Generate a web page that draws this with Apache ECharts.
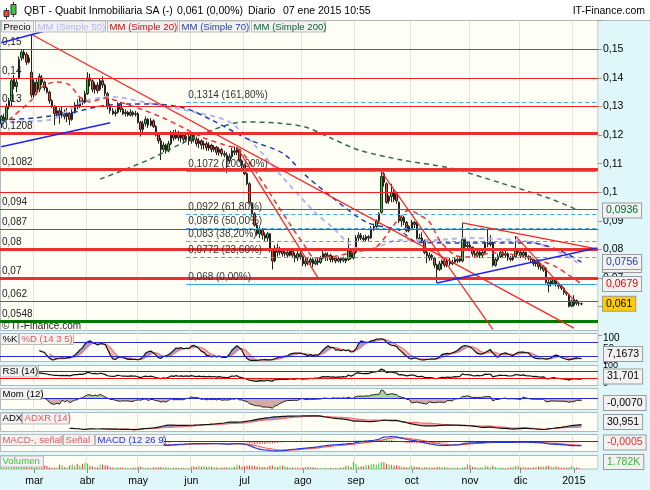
<!DOCTYPE html>
<html><head><meta charset="utf-8">
<script src="https://cdn.jsdelivr.net/npm/echarts@6/dist/echarts.min.js"></script>
<style>html,body{margin:0;padding:0;background:#dff7fb}#c{width:650px;height:490px}</style>
</head><body><div id="c"></div>
<script>
// ---------------- DATA ----------------
const startDate = '2014-02-12';
const holidays = ['2014-04-18','2014-04-21','2014-05-01','2014-12-25','2014-12-26','2015-01-01'];
const padDays = 6;
const monthNames = ['ene','feb','mar','abr','may','jun','jul','ago','sep','oct','nov','dic'];

// candles: [open, close, low, high]
const candlesFeb = [
[.1240,.1265,.1225,.1270],[.1262,.1250,.1240,.1275],[.1255,.1300,.1250,.1310],[.1300,.1320,.1290,.1330],
[.1320,.1390,.1300,.1400],[.1395,.1370,.1360,.1410],[.1370,.1385,.1350,.1395],[.1400,.1465,.1395,.1475],
[.1470,.1490,.1460,.1500],[.1490,.1480,.1465,.1500],[.1482,.1455,.1445,.1490],[.1455,.1470,.1450,.1480],
[.1420,.1340,.1330,.1552]];
const candlesMar = [
[.1340,.1385,.1330,.1395],[.1385,.1350,.1340,.1395],[.1360,.1405,.1350,.1415],[.1400,.1385,.1375,.1410],
[.1385,.1365,.1355,.1390],[.1365,.1350,.1345,.1370],[.1350,.1320,.1310,.1355],[.1320,.1300,.1295,.1325],
[.1300,.1275,.1235,.1305],[.1275,.1285,.1265,.1300],[.1285,.1270,.1240,.1295],[.1270,.1280,.1260,.1300],
[.1280,.1265,.1255,.1290],[.1265,.1275,.1245,.1295],[.1275,.1255,.1235,.1280],[.1255,.1280,.1250,.1290],
[.1280,.1305,.1275,.1315],[.1305,.1300,.1290,.1325],[.1300,.1320,.1295,.1330],[.1320,.1315,.1305,.1330],
[.1315,.1345,.1310,.1355]];
const candlesApr = [
[.1345,.1400,.1340,.1420],[.1400,.1390,.1370,.1415],[.1390,.1360,.1350,.1395],[.1360,.1375,.1345,.1385],
[.1375,.1355,.1345,.1385],[.1360,.1390,.1355,.1400],[.1390,.1375,.1365,.1405],[.1375,.1345,.1335,.1380],
[.1345,.1300,.1290,.1350],[.1300,.1285,.1275,.1310],[.1285,.1275,.1270,.1295],[.1275,.1280,.1265,.1290],
[.1280,.1310,.1275,.1315],[.1310,.1290,.1280,.1315],[.1290,.1275,.1270,.1295],[.1275,.1280,.1265,.1290],
[.1280,.1270,.1265,.1285],[.1270,.1280,.1265,.1290],[.1280,.1272,.1265,.1285],[.1272,.1275,.1265,.1285]];
const candlesMay = [
[.1275,.1245,.1240,.1280],[.1245,.1220,.1195,.1250],[.1220,.1240,.1210,.1250],[.1240,.1255,.1230,.1265],
[.1255,.1235,.1225,.1260],[.1235,.1250,.1230,.1260],[.1250,.1230,.1225,.1255],[.1230,.1200,.1195,.1235],
[.1200,.1180,.1170,.1205],[.1180,.1150,.1113,.1190],[.1150,.1165,.1140,.1175],[.1165,.1145,.1135,.1170],
[.1145,.1170,.1140,.1180],[.1170,.1205,.1165,.1215],[.1205,.1190,.1180,.1218],[.1190,.1210,.1185,.1220],
[.1210,.1190,.1180,.1215],[.1190,.1200,.1175,.1210],[.1200,.1185,.1170,.1205],[.1185,.1195,.1175,.1205],
[.1195,.1180,.1165,.1205]];
const candlesJun = [
[.1180,.1200,.1170,.1210],[.1200,.1185,.1175,.1207],[.1185,.1170,.1160,.1195],[.1170,.1180,.1155,.1190],
[.1180,.1165,.1150,.1185],[.1165,.1170,.1150,.1180],[.1170,.1155,.1145,.1178],[.1155,.1165,.1145,.1175],
[.1165,.1150,.1140,.1170],[.1150,.1158,.1142,.1165],[.1158,.1140,.1130,.1162],[.1140,.1150,.1128,.1158],
[.1150,.1135,.1125,.1155],[.1135,.1130,.1122,.1145],[.1130,.1110,.1067,.1140],[.1110,.1125,.1100,.1135],
[.1125,.1145,.1118,.1155],[.1145,.1140,.1130,.1160],[.1140,.1150,.1130,.1158],[.1150,.1110,.1105,.1152],
[.1110,.1095,.1080,.1115]];
const candlesJul = [
[.1095,.1065,.1060,.1100],[.1065,.1030,.1025,.1070],[.1030,.0965,.0960,.1035],[.0960,.0925,.0918,.0965],
[.0925,.0885,.0880,.0930],[.0885,.0855,.0848,.0890],[.0855,.0870,.0840,.0880],[.0870,.0850,.0835,.0875],
[.0850,.0840,.0830,.0860],[.0840,.0855,.0828,.0862],[.0855,.0800,.0790,.0858],[.0800,.0760,.0730,.0805],
[.0760,.0805,.0755,.0815],[.0805,.0790,.0775,.0820],[.0790,.0795,.0780,.0810],[.0795,.0785,.0775,.0805],
[.0785,.0790,.0775,.0800],[.0790,.0780,.0770,.0800],[.0780,.0795,.0775,.0805],[.0795,.0780,.0770,.0805],
[.0780,.0770,.0755,.0790],[.0770,.0785,.0760,.0795],[.0785,.0775,.0765,.0795]];
const candlesAug = [
[.0775,.0750,.0742,.0780],[.0750,.0760,.0740,.0770],[.0760,.0755,.0745,.0770],[.0755,.0765,.0745,.0772],
[.0765,.0750,.0738,.0770],[.0750,.0760,.0745,.0768],[.0760,.0755,.0745,.0770],[.0755,.0770,.0750,.0778],
[.0770,.0785,.0765,.0795],[.0785,.0775,.0760,.0790],[.0775,.0780,.0760,.0790],[.0780,.0765,.0755,.0785],
[.0765,.0770,.0755,.0778],[.0770,.0760,.0752,.0775],[.0760,.0768,.0755,.0775],[.0768,.0762,.0752,.0772],
[.0762,.0768,.0755,.0775],[.0768,.0760,.0752,.0772],[.0765,.0795,.0760,.0840],[.0795,.0770,.0765,.0800],
[.0770,.0790,.0765,.0795]];
const candlesSep = [
[.0790,.0840,.0785,.0850],[.0840,.0850,.0830,.0860],[.0850,.0840,.0832,.0858],[.0840,.0835,.0826,.0850],
[.0835,.0845,.0828,.0852],[.0845,.0840,.0830,.0850],[.0840,.0875,.0838,.0882],[.0875,.0880,.0865,.0890],
[.0880,.0900,.0875,.0905],[.0900,.0925,.0890,.0930],[.0930,.1055,.0925,.1072],[.1065,.1035,.1020,.1070],
[.1030,.0965,.0960,.1035],[.0970,.0985,.0960,.0990],[.0985,.1000,.0965,.1030],[.1000,.0975,.0965,.1010],
[.0995,.0970,.0960,.1002],[.0965,.0900,.0893,.0968],[.0900,.0912,.0880,.0920],[.0912,.0895,.0885,.0918],
[.0895,.0865,.0860,.0900],[.0865,.0880,.0860,.0885]];
const candlesOct = [
[.0875,.0895,.0868,.0903],[.0895,.0888,.0875,.0900],[.0890,.0840,.0833,.0896],[.0840,.0830,.0822,.0855],
[.0830,.0840,.0825,.0860],[.0830,.0790,.0783,.0835],[.0790,.0778,.0752,.0805],[.0770,.0780,.0760,.0790],
[.0780,.0770,.0762,.0785],[.0770,.0745,.0735,.0775],[.0745,.0730,.0683,.0750],[.0730,.0750,.0725,.0760],
[.0750,.0760,.0730,.0765],[.0760,.0745,.0738,.0768],[.0745,.0760,.0738,.0768],[.0760,.0750,.0742,.0770],
[.0750,.0755,.0745,.0765],[.0755,.0765,.0750,.0772],[.0765,.0760,.0752,.0772],[.0760,.0768,.0755,.0775],
[.0760,.0835,.0755,.0893],[.0835,.0810,.0805,.0840],[.0810,.0815,.0800,.0830]];
const candlesNov = [
[.0815,.0808,.0800,.0826],[.0808,.0785,.0775,.0810],[.0785,.0778,.0770,.0795],[.0778,.0790,.0772,.0798],
[.0790,.0780,.0770,.0795],[.0780,.0790,.0772,.0795],[.0790,.0822,.0785,.0830],[.0822,.0818,.0808,.0868],
[.0818,.0825,.0810,.0850],[.0825,.0745,.0740,.0828],[.0745,.0765,.0740,.0772],[.0765,.0775,.0758,.0785],
[.0775,.0790,.0770,.0798],[.0790,.0780,.0772,.0797],[.0780,.0785,.0772,.0795],[.0785,.0770,.0760,.0790],
[.0770,.0765,.0758,.0778],[.0765,.0775,.0760,.0780],[.0775,.0800,.0770,.0847],[.0800,.0790,.0782,.0805]];
const candlesDec = [
[.0790,.0780,.0770,.0800],[.0780,.0790,.0772,.0795],[.0790,.0775,.0765,.0793],[.0775,.0770,.0762,.0780],
[.0770,.0765,.0755,.0778],[.0765,.0750,.0742,.0768],[.0750,.0755,.0740,.0762],[.0755,.0740,.0730,.0758],
[.0740,.0735,.0727,.0748],[.0728,.0740,.0722,.0745],[.0735,.0685,.0680,.0738],[.0685,.0675,.0650,.0695],
[.0680,.0690,.0670,.0695],[.0680,.0695,.0675,.0700],[.0690,.0680,.0670,.0695],[.0680,.0672,.0662,.0685],
[.0672,.0665,.0658,.0678],[.0665,.0650,.0642,.0668],[.0650,.0645,.0638,.0655],[.0642,.0602,.0598,.0645],
[.0602,.0620,.0598,.0625]];
const candlesJan = [
[.0605,.0625,.0600,.0640],[.0622,.0612,.0605,.0625],[.0612,.0610,.0602,.0618],[.0610,.0610,.0605,.0615]];

// volume (thousands of shares)
const volFeb = [40,35,60,80,120,70,90,150,110,60,80,70,180];
const volMar = [50,40,45,40,90,85,40,35,35,40,120,110,50,40,100,130,90,150,110,140,180];
const volApr = [160,90,70,60,50,120,130,110,100,60,40,35,50,45,40,30,35,30,40,45];
const volMay = [60,70,45,40,35,30,40,45,50,60,45,40,35,30,35,40,30,35,30,25,30];
const volJun = [70,80,60,90,70,85,60,75,65,50,40,35,45,40,50,45,40,60,120,110,70];
const volJul = [80,90,100,90,85,70,80,60,50,60,90,100,70,60,90,95,85,50,40,45,35,40,30];
const volAug = [40,60,55,60,50,45,30,25,30,25,30,35,30,25,30,40,50,90,100,60,200];
const volSep = [140,60,80,70,120,110,130,150,120,160,200,190,150,130,120,100,110,90,70,60,50,60];
const volOct = [90,70,60,50,45,40,50,45,40,35,60,70,60,50,40,35,30,40,35,30,45,60,130];
const volNov = [110,60,50,45,40,40,90,70,50,95,60,40,35,30,30,35,40,60,90,80];
const volDec = [50,65,40,35,30,40,60,70,65,55,80,90,70,60,75,50,40,35,45,40,90];
const volJan = [60,40,30,1.782];

// moving averages: [tradingDayIndex, value]
const sma20 = [[3,.1253],[12,.1323],[16,.1368],[22,.1386],[27,.1375],[31,.1333],[35,.1316],[38,.1323],[41,.1330],[48,.1312],[56,.1288],[64,.1260],[72,.1225],[80,.1190],[88,.1166],[94,.1148],[100,.1078],[111,.0928],[119,.0823],[124,.0770],[132,.0777],[139,.0791],[148,.0809],[155,.0886],[161,.0938],[165,.0921],[169,.0896],[173,.0833],[179,.0780],[184,.0774],[194,.0788],[203,.0781],[212,.0763],[219,.0739],[229,.0679]];
const sma50 = [[0,.1246],[19,.1253],[32,.1316],[44,.1333],[58,.1312],[78,.1277],[90,.1246],[100,.1165],[111,.1053],[124,.0928],[131,.0875],[139,.0809],[145,.0802],[157,.0833],[170,.0833],[184,.0840],[209,.0826],[220,.0791],[229,.0746]];
const sma70 = [[0,.1253],[13,.1260],[27,.1277],[42,.1305],[58,.1309],[72,.1295],[83,.1253],[98,.1183],[111,.1137],[120,.1060],[127,.1008],[144,.0896],[157,.0868],[164,.0826],[177,.0823],[190,.0823],[209,.0823],[220,.0798],[229,.0756]];
const sma200 = [[39,.1046],[58,.1113],[70,.1166],[82,.1214],[96,.1246],[109,.1242],[120,.1228],[130,.1190],[141,.1148],[158,.1113],[177,.1085],[197,.1033],[216,.0980],[228,.0936]];
const maLastLabels = {sma20:'0,0679', sma50:'0,0746', sma70:'0,0756', sma200:'0,0936'};
const lastPrice = 0.061, lastPriceLabel = '0,061';

// horizontal levels
const thinRedLevels = [[0.15,'0,15'],[0.14,'0,14'],[0.13,'0,13'],[0.1,''],[0.094,'0,094'],[0.087,'0,087'],[0.062,'0,062']];
const thickRedLevels = [[0.1208,'0,1208'],[0.1082,'0,1082'],[0.08,'0,08'],[0.07,'0,07']];
const greenLevels = [[0.0548,'0,0548']];
const fibDashed = [[0.1314,'0,1314 (161,80%)'],[0.0922,'0,0922 (61,80%)'],[0.0876,'0,0876 (50,00%)'],[0.083,'0,083 (38,20%)'],[0.0772,'0,0772 (23,60%)']];
const fibSolid = [[0.1072,'0,1072 (100,00%)'],[0.068,'0,068 (0,00%)']];
const fibStartIndex = 73;

// trend lines: [index1, value1, index2, value2]
const redTrends = [[12,.1552,226,.0525],[93,.1158,125,.0701],[150,.1072,194,.0521],[182,.0893,235,.0802],[203,.0847,226,.0623]];
const blueTrends = [[0,.1523,32,.1599],[0,.1159,43,.1243],[172,.0683,235,.0805]];

const titleParts = ['QBT - Quabit Inmobiliaria SA (-)','0,061 (0,00%)','Diario','07 ene 2015 10:55'];
const legendItems = ['Precio','MM (Simple 50)','MM (Simple 20)','MM (Simple 70)','MM (Simple 200)'];
const indicatorValueLabels = ['7,1673','31,701','-0,0070','30,951','-0,0005','1.782K'];

// ---------------- BUILD ----------------
const candles = [].concat(candlesFeb,candlesMar,candlesApr,candlesMay,candlesJun,candlesJul,candlesAug,candlesSep,candlesOct,candlesNov,candlesDec,candlesJan);
const volumes = [].concat(volFeb,volMar,volApr,volMay,volJun,volJul,volAug,volSep,volOct,volNov,volDec,volJan);
const N0 = candles.length;
const nCat = N0 + padDays;
function buildDates(start, count){
  const out=[]; const d=new Date(start+'T00:00:00Z');
  while(out.length<count){ const wd=d.getUTCDay(); const s=d.toISOString().slice(0,10);
    if(wd!==0&&wd!==6&&holidays.indexOf(s)<0) out.push(s);
    d.setUTCDate(d.getUTCDate()+1);}
  return out;
}
const dates = buildDates(startDate, nCat);
const isMonthStart = dates.map((s,i)=> i>0 && i<N0 && s.slice(5,7)!==dates[i-1].slice(5,7));
const monthFmt = v => { const m=+v.slice(5,7); return m===1 ? v.slice(0,4) : monthNames[m-1]; };

const Op=candles.map(d=>d[0]), Cl=candles.map(d=>d[1]), Lo=candles.map(d=>d[2]), Hi=candles.map(d=>d[3]);
function smaArr(a,n){ return a.map((_,i)=>{ if(i<n-1) return null; let s=0; for(let j=i-n+1;j<=i;j++){ if(a[j]==null) return null; s+=a[j]; } return s/n; }); }
const rawK = Cl.map((c,i)=>{ if(i<13) return null; let hh=-1, ll=1; for(let j=i-13;j<=i;j++){hh=Math.max(hh,Hi[j]); ll=Math.min(ll,Lo[j]);} return hh>ll?100*(c-ll)/(hh-ll):50; });
const stK = smaArr(rawK,3), stD = smaArr(stK,5);
const rsi = new Array(N0).fill(null);
{ let ag=0, al=0; for(let i=1;i<N0;i++){ const ch=Cl[i]-Cl[i-1], g=Math.max(ch,0), l=Math.max(-ch,0);
  if(i<=14){ ag+=g/14; al+=l/14; if(i===14) rsi[i]= al===0?100:100-100/(1+ag/al); }
  else { ag=(ag*13+g)/14; al=(al*13+l)/14; rsi[i]= al===0?100:100-100/(1+ag/al); } } }
const mom = Cl.map((c,i)=> i>=12 ? c-Cl[i-12] : null);
const adx = new Array(N0).fill(null), adxr = new Array(N0).fill(null);
{ let trS=0,pS=0,mS=0,cnt=0,sum=0,av=null;
  for(let i=1;i<N0;i++){ const tr=Math.max(Hi[i]-Lo[i],Math.abs(Hi[i]-Cl[i-1]),Math.abs(Lo[i]-Cl[i-1]));
    const up=Hi[i]-Hi[i-1], dn=Lo[i-1]-Lo[i]; const pdm=(up>dn&&up>0)?up:0, mdm=(dn>up&&dn>0)?dn:0;
    if(i<=14){trS+=tr;pS+=pdm;mS+=mdm;} else {trS=trS-trS/14+tr; pS=pS-pS/14+pdm; mS=mS-mS/14+mdm;}
    if(i>=14){ const pdi=100*pS/trS, mdi=100*mS/trS; const dx=(pdi+mdi)>0?100*Math.abs(pdi-mdi)/(pdi+mdi):0; cnt++;
      if(cnt<=14){ sum+=dx; if(cnt===14){ av=sum/14; adx[i]=av; } } else { av=(av*13+dx)/14; adx[i]=av; } } }
  for(let i=13;i<N0;i++) if(adx[i]!=null&&adx[i-13]!=null) adxr[i]=(adx[i]+adx[i-13])/2; }
const ema=(a,n)=>{const k=2/(n+1); let e=a[0]; return a.map((v,i)=>{ e = i===0?v:v*k+e*(1-k); return e; });};
const e12=ema(Cl,12), e26=ema(Cl,26); const macd=e12.map((v,i)=>v-e26[i]); const sig=ema(macd,9); const hist=macd.map((v,i)=>v-sig[i]);

function band(a,b){ const base=[],up=[],dn=[]; a.forEach((v,i)=>{ const w=b[i]; if(v==null||w==null){base.push(null);up.push(null);dn.push(null);return;} base.push(Math.min(v,w)); up.push(v>w?v-w:0); dn.push(w>v?w-v:0); }); return {base,up,dn}; }
const kdBand = band(stK, stD);
const adBand = band(adx, adxr);
const rsiLowBase = rsi.map(v=>v), rsiLowFill = rsi.map(v=>v==null?null:Math.max(0,30-v));
const rsiHiBase = rsi.map(v=>v==null?null:Math.min(v,70)), rsiHiFill = rsi.map(v=>v==null?null:Math.max(0,v-70));
const momPos = mom.map(v=>v==null?null:Math.max(v,0)), momNeg = mom.map(v=>v==null?null:Math.min(v,0));

let aMin=1e9,aMax=-1e9; for(let i=41;i<N0;i++){ [adx[i],adxr[i]].forEach(v=>{ if(v!=null){aMin=Math.min(aMin,v);aMax=Math.max(aMax,v);} }); }
const aPx = 14.5/(aMax-aMin);
let mMin=0,mMax=0; for(let i=40;i<N0;i++){ [macd[i],sig[i]].forEach(v=>{mMin=Math.min(mMin,v);mMax=Math.max(mMax,v);}); }
const mk = Math.max(-mMin/9.3, mMax/6.8);
const vMax = Math.max.apply(null, volumes);

// ---------------- OPTION ----------------
const FONT = 'Liberation Sans, Arial, sans-serif';
const PW = 598;
const grids = [
  {top:20.7, height:314.6}, {top:338, height:23}, {top:366, height:18}, {top:388.5, height:21},
  {top:412.5, height:19}, {top:434.5, height:17}, {top:455.5, height:13.5}
].map(g=>Object.assign({left:0, width:PW, containLabel:false}, g));

const xAxes = grids.map((g,k)=>({
  type:'category', gridIndex:k, data:dates, boundaryGap:true,
  axisLine:{show:false},
  axisTick:{show:k===6, alignWithLabel:true, interval:(i)=>isMonthStart[i], length:4, lineStyle:{color:'#8a8a8a'}},
  axisLabel:{show:k===6, interval:(i)=>isMonthStart[i], formatter:monthFmt, color:'#000', fontSize:10.5, margin:7, fontFamily:FONT},
  splitLine:{show:true, interval:(i)=>isMonthStart[i], lineStyle:{color:'#e3e3e3', width:1}}
}));
const fmtPrice = v => { if(v<0.065||v>0.155) return ''; return String(+v.toFixed(2)).replace('.',','); };
const yAxes = [
  {gridIndex:0, position:'right', min:0.05, max:0.16, interval:0.01, axisLine:{show:false},
   axisTick:{show:true, length:4, lineStyle:{color:'#999'}}, splitLine:{show:false},
   axisLabel:{formatter:fmtPrice, color:'#000', fontSize:10.5, margin:5, fontFamily:FONT}},
  {gridIndex:1, position:'right', min:0, max:100, interval:50, axisLine:{show:false}, axisTick:{show:false}, splitLine:{show:false},
   axisLabel:{color:'#000', fontSize:10, margin:5}},
  {gridIndex:2, position:'right', min:0, max:100, interval:50, axisLine:{show:false}, axisTick:{show:false}, splitLine:{show:false},
   axisLabel:{color:'#000', fontSize:9, margin:5}},
  {gridIndex:3, min:-0.0381, max:0.0333, show:false},
  {gridIndex:4, min:aMin-2/aPx, max:aMax+3.5/aPx, show:false},
  {gridIndex:5, min:-9.8*mk, max:7.2*mk, show:false},
  {gridIndex:6, min:0, max:vMax*13.5/7, show:false}
];

const series = [];
const noEmph = {disabled:true};
const hiddenLine = {width:0, color:'rgba(0,0,0,0)', opacity:1};
function hLine(v, txt, color, width){
  return {yAxis:v, lineStyle:{color, width, type:'solid'},
    label:{show:!!txt, position:'insideStartTop', formatter:txt||' ', color:'#222', fontSize:10, distance:2, fontFamily:FONT}};
}
function fibLine(v, txt, type){
  return [{coord:[fibStartIndex, v], lineStyle:{color:'#33aaee', width:1, type}, label:{show:true, position:'insideStartTop', formatter:txt, color:'#333', fontSize:10, distance:2, fontFamily:FONT}},
          {coord:[nCat-1, v]}];
}
const levelData = []
  .concat(thinRedLevels.map(d=>hLine(d[0], d[1], '#ee2222', 1)))
  .concat(thickRedLevels.map(d=>hLine(d[0], d[1], '#e83030', 3)))
  .concat(greenLevels.map(d=>hLine(d[0], d[1], '#007a00', 3)))
  .concat(fibDashed.map(d=>fibLine(d[0], d[1], [4,3])))
  .concat(fibSolid.map(d=>fibLine(d[0], d[1], 'solid')));
series.push({type:'line', name:'levels', xAxisIndex:0, yAxisIndex:0, data:[], z:1, silent:true,
  markLine:{symbol:'none', silent:true, animation:false, precision:6, data:levelData}});

series.push({type:'candlestick', name:'Precio', xAxisIndex:0, yAxisIndex:0, data:candles, barWidth:2, z:3,
  itemStyle:{color:'#33cc33', color0:'#ff4411', borderColor:'#222', borderColor0:'#222', borderWidth:1}, emphasis:noEmph});

function valueTag(v, txt, color, bg){
  return {type:'line', xAxisIndex:0, yAxisIndex:0, data:[], z:20, silent:true,
    markLine:{symbol:'none', silent:true, animation:false, precision:6, z:20,
      data:[{yAxis:v, lineStyle:hiddenLine, label:{show:true, position:'end', formatter:txt, color, opacity:1, backgroundColor:bg, borderColor:'#9a9a9a', borderWidth:1, padding:[2,3,1,3], fontSize:10.5, distance:5, fontFamily:FONT}}]}};
}
function maSeries(name, data, color, width){
  return {type:'line', name, xAxisIndex:0, yAxisIndex:0, data, smooth:0.3, symbol:'none', z:4, silent:true,
    lineStyle:{color, width, type:[5,4]}, emphasis:noEmph};
}
series.push(maSeries('MM50', sma50, '#b4b4f4', 2));
series.push(maSeries('MM200', sma200, '#2e6e4e', 1.5));
series.push(maSeries('MM70', sma70, '#1f3fa8', 1.5));
series.push(maSeries('MM20', sma20, '#ee3030', 1.5));

redTrends.forEach(t=>series.push({type:'line', xAxisIndex:0, yAxisIndex:0, data:[[t[0],t[1]],[t[2],t[3]]], symbol:'none', z:5, silent:true, lineStyle:{color:'#ff2020', width:1.2}}));
blueTrends.forEach(t=>series.push({type:'line', xAxisIndex:0, yAxisIndex:0, data:[[t[0],t[1]],[t[2],t[3]]], symbol:'none', z:5, silent:true, lineStyle:{color:'#2222ee', width:1.5}}));

series.push(valueTag(sma200[sma200.length-1][1], maLastLabels.sma200, '#006633', '#f2f2f2'));
series.push(valueTag(sma50[sma50.length-1][1], maLastLabels.sma50, '#b4b4f4', '#f2f2f2'));
series.push(valueTag(sma70[sma70.length-1][1], maLastLabels.sma70, '#1f3fa8', '#f2f2f2'));
series.push(valueTag(sma20[sma20.length-1][1], maLastLabels.sma20, '#e00000', '#f2f2f2'));
series.push(valueTag(lastPrice, lastPriceLabel, '#000', '#ffcc00'));

function stackSeries(ax, b, upColor, dnColor, stack){
  return [
    {type:'line', xAxisIndex:ax, yAxisIndex:ax, data:b.base, stack, symbol:'none', lineStyle:{opacity:0}, silent:true, z:2},
    {type:'line', xAxisIndex:ax, yAxisIndex:ax, data:b.up, stack, symbol:'none', lineStyle:{opacity:0}, areaStyle:{color:upColor, opacity:1}, silent:true, z:2},
    {type:'line', xAxisIndex:ax, yAxisIndex:ax, data:b.dn, stack, symbol:'none', lineStyle:{opacity:0}, areaStyle:{color:dnColor, opacity:1}, silent:true, z:2}
  ];
}
function simpleLine(ax, data, color, width){ return {type:'line', xAxisIndex:ax, yAxisIndex:ax, data, symbol:'none', silent:true, z:3, lineStyle:{color, width}}; }
function refLines(vals){ return {symbol:'none', silent:true, animation:false, precision:6, label:{show:false}, data:vals.map(v=>({yAxis:v[0], lineStyle:{color:v[1], width:1.2, type:'solid'}}))}; }

series.push(...stackSeries(1, kdBand, '#9d9dd9', '#f3b4b4', 'kd'));
series.push(Object.assign(simpleLine(1, stD, '#f07a7a', 1.2), {markLine:refLines([[80,'#2a2ad0'],[20,'#2a2ad0']])}));
series.push(simpleLine(1, stK, '#111', 1.2));
series.push({type:'line', xAxisIndex:2, yAxisIndex:2, data:rsiLowBase, stack:'rl', symbol:'none', lineStyle:{opacity:0}, silent:true});
series.push({type:'line', xAxisIndex:2, yAxisIndex:2, data:rsiLowFill, stack:'rl', symbol:'none', lineStyle:{opacity:0}, areaStyle:{color:'#9ccc9c', opacity:1}, silent:true});
series.push({type:'line', xAxisIndex:2, yAxisIndex:2, data:rsiHiBase, stack:'rh', symbol:'none', lineStyle:{opacity:0}, silent:true});
series.push({type:'line', xAxisIndex:2, yAxisIndex:2, data:rsiHiFill, stack:'rh', symbol:'none', lineStyle:{opacity:0}, areaStyle:{color:'#9ccc9c', opacity:1}, silent:true});
series.push(Object.assign(simpleLine(2, rsi, '#111', 1.2), {markLine:refLines([[70,'#2a2ad0'],[30,'#ee1111']])}));
series.push({type:'line', xAxisIndex:3, yAxisIndex:3, data:momPos, symbol:'none', lineStyle:{opacity:0}, areaStyle:{color:'#a8d4a0', opacity:1}, silent:true, z:2});
series.push({type:'line', xAxisIndex:3, yAxisIndex:3, data:momNeg, symbol:'none', lineStyle:{opacity:0}, areaStyle:{color:'#d2aaa6', opacity:1}, silent:true, z:2});
series.push(Object.assign(simpleLine(3, mom, '#222', 1), {markLine:refLines([[0,'#2a2ad0']])}));
series.push(...stackSeries(4, adBand, '#9d9dd9', '#f3b4b4', 'ad'));
series.push(simpleLine(4, adxr, '#f07070', 1.2));
series.push(simpleLine(4, adx, '#111', 1.2));
series.push({type:'bar', xAxisIndex:5, yAxisIndex:5, barWidth:1, silent:true, z:2,
  data:hist.map(v=>({value:v, itemStyle:{color: v>=0?'#33bb33':'#ee3333'}}))});
series.push(Object.assign(simpleLine(5, sig, '#f05a5a', 1.2), {markLine:refLines([[0,'#2a2ad0']])}));
series.push(simpleLine(5, macd, '#2233dd', 1.2));
series.push({type:'bar', xAxisIndex:6, yAxisIndex:6, barWidth:1, silent:true,
  data:volumes.map((v,i)=>({value:v, itemStyle:{color: Cl[i]>=Op[i]?'#33cc33':'#ee3333'}}))});

// ---------------- GRAPHICS (backgrounds & text) ----------------
const g = [];
g.push({type:'rect', z:-10, shape:{x:0,y:0,width:650,height:20.5}, style:{fill:'#ffffff'}});
g.push({type:'line', z:-9, shape:{x1:0,y1:20.5,x2:650,y2:20.5}, style:{stroke:'#b8b8b8', lineWidth:1}});
const panels = [[20.5,310],[333.5,28],[365.5,20],[388.5,21],[412.5,19],[434.5,17],[455.5,13.5]];
panels.forEach(p=>g.push({type:'rect', z:-10, shape:{x:0.5,y:p[0],width:PW-0.5,height:p[1]}, style:{fill:'#fffff6', stroke:'#a9bcc4', lineWidth:1}}));
g.push({type:'line', z:10, shape:{x1:6.5,y1:8,x2:6.5,y2:19}, style:{stroke:'#333', lineWidth:1}});
g.push({type:'rect', z:10, shape:{x:4,y:10.5,width:5,height:6}, style:{fill:'#ee4433', stroke:'#333', lineWidth:1}});
g.push({type:'line', z:10, shape:{x1:13.5,y1:2,x2:13.5,y2:17}, style:{stroke:'#333', lineWidth:1}});
g.push({type:'rect', z:10, shape:{x:11,y:4.5,width:5,height:10}, style:{fill:'#33cc33', stroke:'#333', lineWidth:1}});
const titleX = [24,177,248,283];
titleParts.forEach((t,i)=>g.push({type:'text', z:10, x:titleX[i], y:11, style:{text:t, fill:'#000', font:'10.5px '+FONT, verticalAlign:'middle'}}));
g.push({type:'text', z:10, x:645, y:11, style:{text:'IT-Finance.com', fill:'#000', font:'10.5px '+FONT, align:'right', verticalAlign:'middle'}});
const legendBoxes = [[1,32,'#000'],[35,70,'#b4b4f4'],[107,70,'#e00000'],[179,70,'#1f3fa8'],[251,74,'#006633']];
legendItems.forEach((t,i)=>{ const b=legendBoxes[i];
  g.push({type:'rect', z:50, shape:{x:b[0]+0.5,y:21,width:b[1],height:11}, style:{fill:'#f2f2f2', stroke:'#bbbbbb', lineWidth:1}});
  g.push({type:'text', z:51, x:b[0]+2.5, y:27, style:{text:t, fill:b[2], font:'9.6px '+FONT, verticalAlign:'middle'}}); });
g.push({type:'text', z:50, x:2, y:326, style:{text:'\u00a9 IT-Finance.com', fill:'#222', font:'10px '+FONT, verticalAlign:'middle'}});
const indLabels = [
  [[2,'%K','#000'],[21,'%D (14 3 5)','#e05a5a']],
  [[2,'RSI (14)','#000']],
  [[2,'Mom (12)','#000']],
  [[2,'ADX','#000'],[24,'ADXR (14)','#e05a5a']],
  [[2,'MACD-, se\u00f1al','#e05a5a'],[65,'Se\u00f1al','#e05a5a'],[97,'MACD (12 26 9)','#2233dd']],
  [[2,'Volumen','#33cc33']]
];
const indLabelY = [339,371.5,394,418.5,440,461.5];
const indLabelW = [[18,54],[38],[42],[21,47],[62,31,68],[43]];
indLabels.forEach((row,k)=>row.forEach((it,j)=>{
  g.push({type:'rect', z:50, shape:{x:it[0]-1.5,y:indLabelY[k]-5.5,width:indLabelW[k][j],height:11}, style:{fill:'#f2f2f2', stroke:'#bbbbbb', lineWidth:1}});
  g.push({type:'text', z:51, x:it[0]+0.5, y:indLabelY[k], style:{text:it[1], fill:it[2], font:'9.6px '+FONT, verticalAlign:'middle'}});
}));
const valY = [354,376.5,403,422,442.5,462];
const valColor = ['#000','#000','#000','#000','#e03030','#33bb33'];
indicatorValueLabels.forEach((t,i)=>g.push({type:'text', z:60, x:604, y:valY[i], style:{text:t, fill:valColor[i], font:'10.5px '+FONT, verticalAlign:'middle', backgroundColor:'#f2f2f2', borderColor:'#9a9a9a', borderWidth:1, padding:[2,3,1,3]}}));

const option = {
  animation:false,
  backgroundColor:'#dff7fb',
  textStyle:{fontFamily:FONT},
  grid:grids, xAxis:xAxes, yAxis:yAxes, series, graphic:g
};
const chart = echarts.init(document.getElementById('c'), null, {renderer:'canvas'});
chart.setOption(option);
</script></body></html>
